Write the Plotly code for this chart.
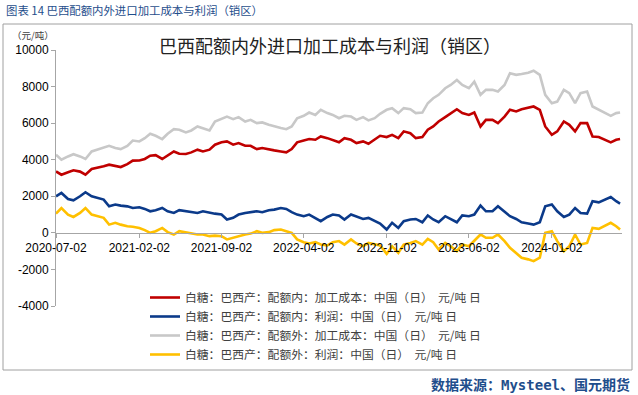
import pandas as pd
import plotly.graph_objects as go

# ---- data (元/吨), semi-monthly readings from 2020-07-02 to 2024-06-26 ----
dates = list(pd.date_range("2020-07-01", periods=96, freq="SMS") + pd.Timedelta(days=1)) + [pd.Timestamp("2024-06-26")]

cost_in = [3360, 3180, 3310, 3420, 3350, 3180, 3490, 3550, 3640, 3730, 3670, 3600, 3760, 3950, 3960, 4040, 4220, 4250, 4040, 4220, 4450, 4330, 4310, 4400, 4550,
           4450, 4550, 4820, 4950, 5000, 4820, 4910, 4760, 4760, 4580, 4640, 4550, 4510, 4450, 4400, 4580, 4950, 5050, 5130, 5090, 5270, 5180, 5090, 4950, 5180,
           5090, 4910, 5000, 4870, 5090, 5310, 5240, 5360, 5180, 5550, 5450, 5180, 5240, 5640, 5820, 6090, 6330, 6550, 6760, 6550, 6450, 6580, 5820, 6180,
           6180, 6000, 6360, 6730, 6640, 6760, 6820, 6910, 6730, 5820, 5360, 5550, 6090, 5910, 5550, 6000, 6000, 5270, 5240, 5090, 4950, 5090, 5130]

profit_in = [2000, 2180, 1850, 1780, 2000, 2220, 2000, 1910, 1820, 1450, 1550, 1490, 1450, 1360, 1400, 1310, 1180, 1240, 1360, 1180, 1090, 1240, 1180, 1130, 1090,
             1180, 1090, 1050, 1000, 730, 820, 1000, 1090, 1130, 1180, 1130, 1240, 1270, 1360, 1310, 1130, 1000, 910, 1000, 820, 640, 870, 1000, 950, 730,
             1000, 910, 760, 820, 640, 510, 180, 550, 270, 640, 730, 760, 580, 950, 730, 580, 910, 760, 580, 950, 910, 1000, 1490, 1180,
             1180, 1450, 1180, 910, 760, 580, 510, 450, 580, 1450, 1550, 1180, 870, 1000, 1360, 1090, 1050, 1730, 1670, 1820, 1960, 1730, 1600]

cost_out = [4270, 4000, 4180, 4300, 4180, 4040, 4450, 4550, 4690, 4760, 4640, 4580, 4760, 5050, 5000, 5180, 5420, 5310, 5130, 5420, 5670, 5640, 5490, 5600, 5820,
            5730, 5600, 6090, 6220, 6360, 6220, 6330, 6090, 6180, 6000, 6040, 5910, 5820, 5730, 5670, 5820, 6270, 6400, 6580, 6450, 6730, 6550, 6450, 6270, 6400,
            6360, 6180, 6330, 6150, 6270, 6510, 6730, 6820, 6550, 6820, 6760, 6550, 6580, 7090, 7360, 7550, 7910, 8090, 8360, 8090, 7910, 8270, 7550, 7820,
            7820, 7730, 8090, 8730, 8640, 8690, 8760, 8870, 8640, 7550, 7090, 7180, 7820, 7640, 7090, 7640, 7730, 6910, 6730, 6550, 6400, 6550, 6580]

profit_out = [1050, 1360, 1000, 870, 1090, 1360, 1000, 910, 820, 450, 550, 450, 360, 330, 270, 150, 0, 90, 270, 40, -90, 90, 40, -40, -90,
              -90, -180, -150, -180, -360, -270, -150, -90, -40, 90, 0, 40, 150, 180, 90, 0, -360, -510, -580, -510, -640, -690, -510, -450, -640,
              -360, -580, -730, -550, -640, -690, -1150, -730, -1090, -640, -550, -450, -640, -330, -510, -910, -550, -730, -1000, -640, -730, -450, -90, -270,
              -270, -90, -450, -820, -1090, -1360, -1450, -1550, -1360, 0, 90, -450, -1000, -730, -90, -640, -550, 270, 220, 360, 550, 360, 180]

series_names = [
    "白糖：巴西产：配额内：加工成本：中国（日）  元/吨 日",
    "白糖：巴西产：配额内：利润：中国（日）  元/吨 日",
    "白糖：巴西产：配额外：加工成本：中国（日）  元/吨 日",
    "白糖：巴西产：配额外：利润：中国（日）  元/吨 日",
]
series_values = [cost_in, profit_in, cost_out, profit_out]
series_colors = ["#C00000", "#0B3A8A", "#C8C8C8", "#FFC000"]

tick_dates = ["2020-07-02", "2021-02-02", "2021-09-02", "2022-04-02", "2022-11-02", "2023-06-02", "2024-01-02"]
y_ticks = [-4000, -2000, 0, 2000, 4000, 6000, 8000, 10000]
y_ticktext = ["-4000", "-2000", "0", "2000", "4000", "6000", "8000", "10000"]

# ---- figure ----
fig = go.Figure()
for name, vals, col in zip(series_names, series_values, series_colors):
    fig.add_trace(go.Scatter(x=dates, y=vals, name=name, mode="lines",
                             line=dict(color=col, width=2.6)))

W, H = 638, 395
L, R, T, B = 56, 16, 50, 89
pw, ph = W - L - R, H - T - B

def px_x(x):
    return (x - L) / pw

def px_y(y):
    return (H - B - y) / ph

axis_col = "#A6A6A6"
fig.update_layout(
    width=W, height=H,
    margin=dict(l=L, r=R, t=T, b=B),
    paper_bgcolor="white", plot_bgcolor="white",
    font=dict(family="Liberation Sans, Arial, sans-serif", size=12, color="#000000"),
    showlegend=True,
    legend=dict(x=px_x(145), y=px_y(283), xanchor="left", yanchor="top",
                bgcolor="rgba(0,0,0,0)",
                font=dict(family="Noto Sans CJK SC", size=11.8, color="#404040"),
                tracegroupgap=0),
    xaxis=dict(type="date", range=["2020-07-02", "2024-07-01"],
               tickvals=tick_dates, ticktext=tick_dates,
               showgrid=False, zeroline=False,
               showline=True, linecolor=axis_col, linewidth=1,
               ticks="outside", ticklen=4, tickcolor=axis_col,
               anchor="free", position=4000 / 14000,
               tickfont=dict(size=12, color="#000000")),
    yaxis=dict(range=[-4000, 10000], tickvals=y_ticks, ticktext=y_ticktext,
               showgrid=False, zeroline=False,
               showline=True, linecolor=axis_col, linewidth=1,
               ticks="outside", ticklen=4, tickcolor=axis_col,
               tickfont=dict(size=12, color="#000000")),
)

# outer frame
fig.add_shape(type="rect", xref="paper", yref="paper",
              x0=px_x(3), x1=px_x(632), y0=px_y(370), y1=px_y(24),
              line=dict(color="#A0A0A0", width=1), fillcolor="rgba(0,0,0,0)", layer="below")

fig.add_annotation(text="图表 14 巴西配额内外进口加工成本与利润（销区）", xref="paper", yref="paper",
                   x=px_x(4), y=px_y(10), xanchor="left", yanchor="middle", showarrow=False,
                   font=dict(family="Noto Sans CJK SC", size=11.4, color="#1F4E8C"))
fig.add_annotation(text="巴西配额内外进口加工成本与利润（销区）", xref="paper", yref="paper",
                   x=px_x(330), y=px_y(45), xanchor="center", yanchor="middle", showarrow=False,
                   font=dict(family="Noto Sans CJK SC", size=18, color="#222222"))
fig.add_annotation(text="（元/吨）", xref="paper", yref="paper",
                   x=px_x(33), y=px_y(35), xanchor="center", yanchor="middle", showarrow=False,
                   font=dict(family="Noto Sans CJK SC", size=9.5, color="#404040"))
fig.add_annotation(text="<b>数据来源：<span style='font-family:DejaVu Sans Mono'>Mysteel</span>、国元期货</b>",
                   xref="paper", yref="paper",
                   x=px_x(632), y=px_y(384), xanchor="right", yanchor="middle", showarrow=False,
                   font=dict(family="Noto Sans CJK SC", size=14, color="#1F4E8C"))

fig.write_html("out.html", post_script="document.body.style.margin='0';",
               config={"displayModeBar": False})
